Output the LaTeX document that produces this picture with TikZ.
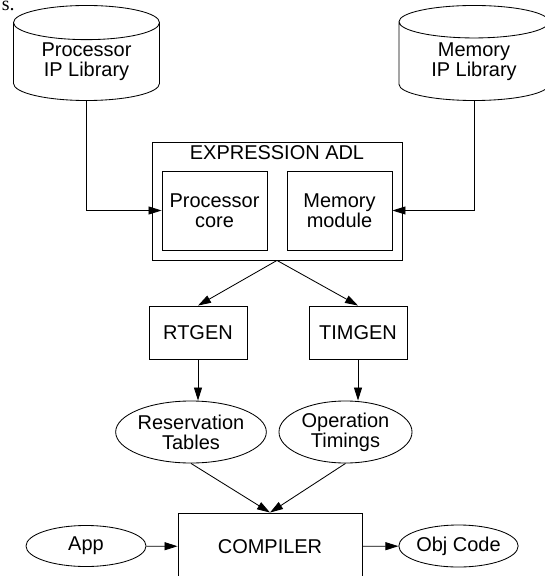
\documentclass[tikz,border=0pt]{standalone}
\usepackage{fontspec}
\setmainfont{Liberation Sans}
\newfontfamily\cutfont{Liberation Serif}
\usetikzlibrary{shapes.geometric, arrows.meta}

\begin{document}
\begin{tikzpicture}[x=0.025cm,y=-0.025cm,line width=0.6pt,
  every node/.style={font=\fontsize{14.2}{14.2}\selectfont,align=center,inner sep=0pt},
  lib/.style={draw,shape=cylinder,shape border rotate=90,aspect=0.38,anchor=shape center,minimum width=3.65cm,minimum height=2.375cm},
  box/.style={draw,shape=rectangle},
  data/.style={draw,shape=ellipse},
  arr/.style={-{Triangle[length=0.325cm,width=0.2cm]}}]
  \useasboundingbox (0,0) rectangle (544,576);
  \path (15,10.5) node[anchor=base east,font=\fontsize{14.2}{14.2}\cutfont] (cut) {s.}
  (86.5,53) node[lib] (plib) {Processor\\IP Library}
  (474,53) node[lib,minimum width=3.75cm] (mlib) {Memory\\IP Library};
  \path (277,201) node[box,minimum width=6.25cm,minimum height=2.95cm] (adl) {}
  (277,153) node (adltitle) {EXPRESSION ADL}
  (214.5,210.5) node[box,minimum width=2.625cm,minimum height=1.975cm] (core) {Processor\\core}
  (339.5,210.5) node[box,minimum width=2.625cm,minimum height=1.975cm] (mem) {Memory\\module};
  \path (198,332.5) node[box,minimum width=2.45cm,minimum height=1.325cm] (rt) {RTGEN}
  (358,332.5) node[box,minimum width=2.45cm,minimum height=1.325cm] (tim) {TIMGEN}
  (191,432) node[data,minimum width=3.3cm,minimum height=1.55cm] (rtab) {Reservation\\Tables}
  (345.5,432) node[data,minimum width=3.325cm,minimum height=1.55cm] (otim) {Operation\\Timings};
  \path (270,546.5) node[box,minimum width=4.6cm,minimum height=1.675cm] (comp) {COMPILER}
  (86,546) node[data,minimum width=3cm,minimum height=1.025cm] (app) {App}
  (458.5,546) node[data,minimum width=2.975cm,minimum height=1.05cm] (obj) {Obj Code};
  % libraries feed the ADL
  \draw[arr] (plib.south) |- (core.west);
  \draw[arr] (mlib.south) |- (mem.east);
  \draw[arr] (adl.south) -- (rt.north);
  \draw[arr] (adl.south) -- (tim.north);
  \draw[arr] (rt.south) -- (rt.south |- rtab.north);
  \draw[arr] (tim.south) -- (tim.south |- otim.north);
  \draw[arr] (rtab.south) -- (comp.north);
  \draw[arr] (otim.south) -- (comp.north);
  \draw[arr] (app) -- (comp);
  \draw[arr] (comp) -- (obj);
\end{tikzpicture}
\end{document}
